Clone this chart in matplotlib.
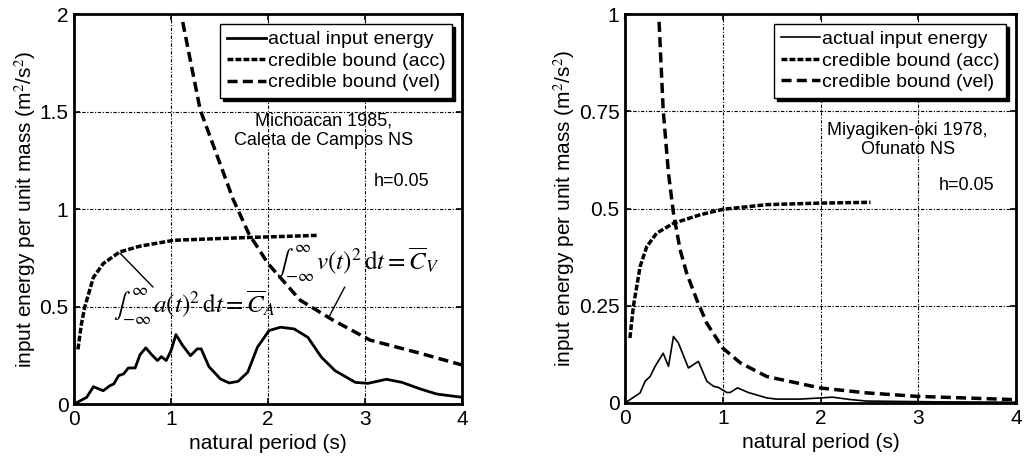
import matplotlib
matplotlib.use("Agg")
import matplotlib.pyplot as plt
import numpy as np

plt.rcParams['font.family'] = ['Liberation Sans', 'DejaVu Sans']
plt.rcParams['mathtext.fontset'] = 'stix'

# --- Michoacan 1985, Caleta de Campos NS ---
t_act1 = [0, 0.13, 0.2, 0.3, 0.37, 0.41, 0.46, 0.51, 0.56, 0.63, 0.68, 0.74, 0.8, 0.86, 0.9,
          0.95, 1.0, 1.05, 1.12, 1.2, 1.27, 1.31, 1.39, 1.51, 1.6, 1.69, 1.79, 1.89, 2.01,
          2.13, 2.27, 2.41, 2.55, 2.69, 2.9, 3.03, 3.22, 3.38, 3.57, 3.74, 3.96, 4.0]
e_act1 = [0, 0.034, 0.089, 0.068, 0.094, 0.103, 0.146, 0.154, 0.185, 0.185, 0.253, 0.288,
          0.253, 0.223, 0.243, 0.223, 0.274, 0.356, 0.30, 0.248, 0.283, 0.283, 0.192, 0.128,
          0.108, 0.116, 0.163, 0.291, 0.377, 0.394, 0.385, 0.342, 0.24, 0.171, 0.111, 0.106,
          0.127, 0.111, 0.077, 0.051, 0.037, 0.035]
t_acc1 = [0.04, 0.076, 0.11, 0.2, 0.3, 0.47, 0.68, 1.03, 1.72, 2.5]
e_acc1 = [0.28, 0.41, 0.497, 0.65, 0.72, 0.78, 0.81, 0.84, 0.853, 0.865]
t_vel1 = [1.12, 1.3, 1.64, 1.8, 2.0, 2.33, 2.67, 3.05, 3.57, 4.0]
e_vel1 = [1.96, 1.51, 1.05, 0.875, 0.72, 0.533, 0.43, 0.328, 0.26, 0.2]

# --- Miyagiken-oki 1978, Ofunato NS ---
t_act2 = [0, 0.154, 0.205, 0.256, 0.307, 0.39, 0.444, 0.495, 0.546, 0.648, 0.75, 0.836,
          0.904, 0.955, 1.04, 1.075, 1.15, 1.26, 1.45, 1.55, 1.79, 2.0, 2.12, 2.3, 2.47,
          3.16, 4.0]
e_act2 = [0, 0.026, 0.056, 0.068, 0.094, 0.128, 0.094, 0.171, 0.154, 0.09, 0.107, 0.056,
          0.043, 0.040, 0.027, 0.027, 0.039, 0.027, 0.013, 0.010, 0.010, 0.013, 0.015, 0.009,
          0.005, 0.003, 0.002]
t_acc2 = [0.05, 0.085, 0.154, 0.222, 0.324, 0.495, 0.768, 1.0, 1.45, 2.0, 2.51]
e_acc2 = [0.167, 0.248, 0.351, 0.402, 0.437, 0.462, 0.484, 0.498, 0.51, 0.514, 0.516]
t_vel2 = [0.348, 0.39, 0.444, 0.495, 0.563, 0.63, 0.734, 0.836, 1.0, 1.18, 1.45, 2.0,
          2.47, 2.99, 4.0]
e_vel2 = [0.98, 0.753, 0.591, 0.488, 0.394, 0.334, 0.265, 0.205, 0.141, 0.103, 0.068,
          0.0385, 0.026, 0.017, 0.0086]

labels = ['actual input energy', 'credible bound (acc)', 'credible bound (vel)']

fig = plt.figure(figsize=(10.24, 4.63), dpi=100)
ax1 = fig.add_axes([0.0723, 0.1274, 0.379, 0.842])
ax2 = fig.add_axes([0.6104, 0.1296, 0.382, 0.840])

grid_style = dict(color='k', linestyle=(0, (3, 1.5, 1, 1.5)), linewidth=0.8)


def draw(ax, t_act, e_act, t_acc, e_acc, t_vel, e_vel, lw_act, ymax, yticks):
    ax.plot(t_act, e_act, color='k', lw=lw_act, label=labels[0])
    ax.plot(t_acc, e_acc, color='k', lw=2.5, dashes=(1.7, 0.6), dash_capstyle='butt',
            label=labels[1])
    ax.plot(t_vel, e_vel, color='k', lw=2.5, dashes=(2.9, 1.5), dash_capstyle='butt',
            label=labels[2])
    ax.set_xlim(0, 4)
    ax.set_ylim(0, ymax)
    ax.set_xticks([0, 1, 2, 3, 4])
    ax.set_yticks(yticks)
    ax.set_yticklabels([('%g' % v) for v in yticks])
    ax.grid(True, **grid_style)
    ax.tick_params(direction='in', top=True, right=True, labelsize=15, length=4, width=1.2,
                   pad=4)
    for s in ax.spines.values():
        s.set_linewidth(2)
    ax.set_xlabel('natural period (s)', fontsize=15, labelpad=4)
    ax.set_ylabel('input energy per unit mass (m$^2$/s$^2$)', fontsize=15, labelpad=1)
    leg = ax.legend(loc='upper right', fontsize=14, fancybox=False, framealpha=1,
                    edgecolor='k', labelspacing=0.2, handletextpad=0.1, borderpad=0.35,
                    handlelength=2.0, shadow={'color': 'k', 'alpha': 1})
    leg.get_frame().set_linewidth(1)


draw(ax1, t_act1, e_act1, t_acc1, e_acc1, t_vel1, e_vel1, 2.0, 2, [0, 0.5, 1, 1.5, 2])
draw(ax2, t_act2, e_act2, t_acc2, e_acc2, t_vel2, e_vel2, 1.2, 1, [0, 0.25, 0.5, 0.75, 1])

ax1.text(2.57, 1.40, 'Michoacan 1985,\nCaleta de Campos NS', fontsize=13, ha='center',
         va='center', multialignment='center')
ax1.text(3.38, 1.14, 'h=0.05', fontsize=13, ha='center', va='center')
ax1.text(1.24, 0.50, r'$\int_{-\infty}^{\infty}\, a(t)^2\,\mathrm{d}t = \overline{C}_A$',
         fontsize=18, ha='center', va='center')
ax1.annotate('', xy=(0.474, 0.774), xytext=(0.814, 0.60),
             arrowprops=dict(arrowstyle='-', color='k', lw=1, shrinkA=0, shrinkB=0))
ax1.text(2.92, 0.72, r'$\int_{-\infty}^{\infty}\, v(t)^2\,\mathrm{d}t = \overline{C}_V$',
         fontsize=18, ha='center', va='center')
ax1.annotate('', xy=(2.62, 0.44), xytext=(2.79, 0.60),
             arrowprops=dict(arrowstyle='-', color='k', lw=1, shrinkA=0, shrinkB=0))

ax2.text(2.89, 0.676, 'Miyagiken-oki 1978,\nOfunato NS', fontsize=13, ha='center',
         va='center', multialignment='center')
ax2.text(3.49, 0.558, 'h=0.05', fontsize=13, ha='center', va='center')

fig.savefig('out.png', dpi=100)
